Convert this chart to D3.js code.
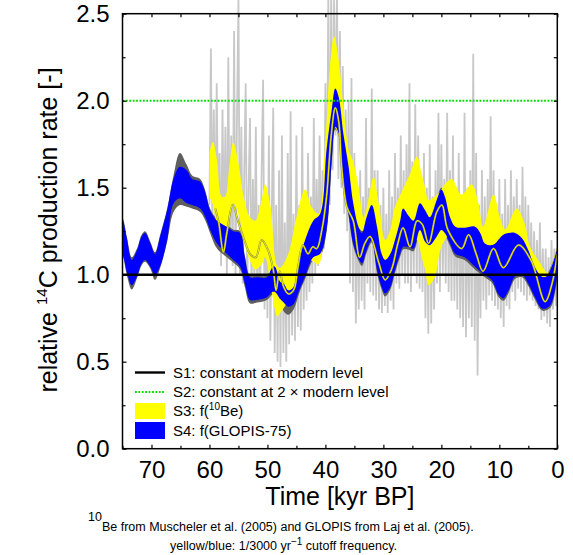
<!DOCTYPE html>
<html><head><meta charset="utf-8">
<script src="https://cdn.jsdelivr.net/npm/d3@7"></script>
<style>body{margin:0;background:#fff}svg{display:block}</style>
</head><body>
<svg id="c" width="573" height="555"></svg>
<script>
// ---------- data ----------
const xMajorTicks = [70, 60, 50, 40, 30, 20, 10, 0];
const xMinorTicks = [75, 65, 55, 45, 35, 25, 15, 5];
const yMajorTicks = [0, 0.5, 1, 1.5, 2, 2.5];
const yMinorTicks = [0.25, 0.75, 1.25, 1.75, 2.25];

// S4: f(GLOPIS-75) band (blue)
const blueT  = [75.0,74.8,74.2,73.4,72.5,71.7,71.1,70.2,69.4,68.5,67.3,66.2,65.1,63.9,63.0,61.6,60.7,59.9,58.7,57.0,55.9,54.7,53.9,53.0,51.8,50.1,49.2,48.7,47.8,47.2,46.4,45.5,44.4,43.5,42.1,40.9,39.8,38.9,38.3,37.7,36.9,36.0,35.2,34.3,33.7,32.9,32.0,31.1,30.3,29.7,28.8,28.0,27.1,26.6,25.7,24.8,23.7,22.8,22.0,20.8,20.0,19.4,18.5,17.6,16.0,14.2,13.3,12.5,11.3,10.7,10.2,9.3,8.4,7.3,6.1,5.0,3.9,2.7,1.9,1.0,0.0];
const blueHi = [1.32,1.30,1.20,1.085,1.14,1.22,1.24,1.18,1.12,1.22,1.37,1.55,1.62,1.60,1.55,1.535,1.47,1.37,1.31,1.275,1.25,1.24,1.10,0.985,0.985,0.985,1.04,1.046,0.96,0.95,0.91,0.93,1.10,1.20,1.31,1.35,1.72,1.95,2.07,2.02,1.81,1.62,1.41,1.276,1.24,1.33,1.40,1.276,1.12,1.085,1.12,1.20,1.31,1.38,1.34,1.31,1.41,1.37,1.33,1.43,1.49,1.45,1.33,1.276,1.27,1.276,1.24,1.18,1.17,1.18,1.20,1.23,1.24,1.24,1.21,1.14,1.046,0.99,0.99,1.046,1.15];
const blueLo = [1.12,1.10,1.01,0.94,0.99,1.065,1.085,1.046,1.00,1.05,1.20,1.41,1.44,1.41,1.40,1.38,1.33,1.26,1.18,1.12,1.085,1.046,0.95,0.855,0.855,0.87,0.90,0.90,0.86,0.84,0.816,0.83,0.92,0.99,1.10,1.12,1.26,1.66,1.85,1.81,1.51,1.35,1.18,1.094,1.065,1.14,1.20,1.027,0.93,0.893,0.93,1.027,1.12,1.16,1.16,1.15,1.257,1.19,1.17,1.22,1.257,1.24,1.18,1.12,1.10,1.046,1.02,1.00,0.97,0.93,0.89,0.864,0.91,0.99,1.00,0.95,0.874,0.807,0.807,0.836,1.00];

// GLOPIS raw envelope (dark grey), same times as blueT
const darkHi = [1.33,1.31,1.21,1.10,1.15,1.23,1.25,1.19,1.13,1.23,1.38,1.57,1.70,1.63,1.57,1.55,1.48,1.38,1.32,1.285,1.26,1.25,1.11,0.995,0.995,0.995,1.05,1.056,0.97,0.96,0.92,0.94,1.11,1.21,1.32,1.36,1.73,1.96,2.08,2.03,1.82,1.63,1.42,1.286,1.25,1.34,1.50,1.29,1.13,1.095,1.13,1.21,1.32,1.39,1.35,1.32,1.42,1.38,1.34,1.44,1.50,1.46,1.34,1.286,1.28,1.286,1.25,1.19,1.18,1.19,1.21,1.24,1.25,1.25,1.22,1.15,1.056,1.00,1.00,1.056,1.16];
const darkLo = [1.11,1.09,0.99,0.915,0.98,1.055,1.075,1.036,0.97,1.04,1.19,1.36,1.40,1.39,1.38,1.36,1.31,1.24,1.15,1.10,1.07,1.03,0.93,0.835,0.84,0.855,0.885,0.885,0.84,0.79,0.77,0.80,0.905,0.975,1.085,1.105,1.245,1.645,1.835,1.795,1.495,1.335,1.165,1.08,1.05,1.125,1.185,1.01,0.915,0.875,0.915,1.01,1.105,1.145,1.145,1.135,1.24,1.175,1.155,1.205,1.24,1.225,1.165,1.105,1.085,1.03,1.005,0.985,0.955,0.915,0.875,0.85,0.895,0.975,0.985,0.935,0.86,0.795,0.795,0.82,0.985];

// S3: f(10Be) band (yellow)
const yelT  = [60.0,59.4,58.7,57.9,57.3,56.7,55.9,55.0,54.1,53.0,52.1,51.0,50.4,49.5,48.7,48.3,47.8,46.4,45.0,43.5,42.4,41.2,40.1,39.2,38.5,37.7,36.9,36.0,35.2,34.3,33.4,32.6,31.7,30.8,29.7,28.8,28.0,26.8,25.4,24.2,23.4,22.8,22.2,21.1,20.2,19.4,18.2,16.5,14.8,13.6,12.8,11.0,9.9,9.0,7.0,5.6,4.7,3.3,1.6,0.7,0.0];
const yelHi = [1.70,1.764,1.66,1.45,1.45,1.58,1.76,1.64,1.45,1.33,1.31,1.43,1.52,1.40,1.10,1.05,1.04,1.12,1.33,1.49,1.39,1.35,1.72,2.20,2.37,2.23,1.97,1.72,1.65,1.51,1.33,1.43,1.56,1.41,1.20,1.26,1.39,1.48,1.58,1.68,1.58,1.50,1.43,1.45,1.48,1.52,1.55,1.46,1.52,1.41,1.276,1.46,1.33,1.26,1.38,1.29,1.16,1.085,1.01,1.085,1.16];
const yelLo = [1.45,1.40,1.28,1.20,1.18,1.30,1.41,1.35,1.20,1.08,1.03,1.06,1.10,0.95,0.80,0.76,0.78,0.85,0.95,1.04,1.08,1.06,1.30,1.60,1.85,1.80,1.60,1.40,1.30,1.27,1.25,1.25,1.20,1.10,1.06,1.05,1.10,1.18,1.18,1.20,1.10,1.03,0.94,0.99,1.14,1.20,1.24,1.26,1.22,1.18,1.15,1.16,1.16,1.17,1.17,1.12,1.05,0.95,0.90,0.95,1.05];

// thin yellow line inside the bands
const lineT = [59.0,58.4,57.6,57.0,56.0,55.0,54.0,53.0,52.0,51.0,50.0,49.0,48.5,47.9,47.2,46.4,45.5,44.7,43.9,43.0,42.2,41.5,40.6,39.8,39.0,38.3,37.7,37.2,36.3,35.2,34.1,33.2,32.3,30.8,29.7,28.6,27.5,26.6,25.4,24.2,23.3,22.2,20.8,19.9,18.9,16.5,15.3,14.0,12.8,11.0,9.3,6.7,4.5,2.1,0.9,0.0];
const lineV = [1.38,1.30,1.13,1.24,1.40,1.30,1.20,1.12,1.10,1.20,1.15,1.03,0.91,1.02,0.93,0.89,0.91,1.05,1.17,1.12,1.16,1.15,1.26,1.45,1.80,1.96,1.88,1.62,1.39,1.31,1.10,1.18,1.22,1.07,0.97,1.03,1.18,1.27,1.16,1.31,1.29,1.18,1.36,1.40,1.26,1.15,1.23,1.12,1.02,1.15,1.04,1.17,1.08,0.845,0.95,1.12];

// 10Be raw record (light grey), every 0.25 kyr from 60 to 0 kyr BP
const rawV = [
1.40,2.30,1.30,1.95, 1.25,2.10,1.35,1.70, 1.05,1.95,1.20,1.85, 1.00,2.25,1.10,1.80,
1.05,2.40,1.00,1.90, 2.58,1.00,1.85,0.95, 1.60,2.10,0.90,1.50, 1.90,0.88,1.55,0.95,
1.85,0.85,1.40,0.90, 1.60,2.12,0.80,1.50, 0.75,1.80,0.62,1.35, 1.96,0.55,1.40,0.50,
1.60,0.47,1.80,0.55, 1.30,0.50,1.70,0.60, 1.94,0.65,1.35,0.62, 1.80,0.70,1.40,0.68,
1.85,0.80,1.30,0.85, 1.70,0.90,1.45,0.95, 1.90,1.00,1.55,1.05, 1.80,1.10,1.60,1.15,
2.10,1.30,2.62,1.40, 2.65,1.60,2.60,1.80, 2.62,1.55,2.40,1.50, 2.20,1.35,1.95,1.25,
2.00,0.95,2.13,0.90, 1.70,0.72,1.50,0.80, 1.60,0.85,1.45,0.80, 1.90,0.95,1.50,0.90,
2.07,0.88,1.60,0.85, 1.60,0.80,1.40,0.78, 1.50,0.82,1.35,0.78, 1.60,0.85,1.45,0.80,
1.70,0.95,1.50,0.92, 1.80,1.00,1.60,0.95, 1.75,0.95,2.10,0.90, 1.65,1.00,1.98,0.95,
1.80,0.92,1.55,0.90, 1.70,0.75,1.50,0.66, 1.75,0.72,1.45,0.80, 1.60,0.95,1.93,0.90,
1.75,1.00,1.55,0.95, 1.93,0.90,1.60,0.85, 1.80,0.85,1.50,0.80, 1.70,0.75,1.45,0.70,
1.93,0.64,1.50,0.75, 1.60,0.70,2.27,0.62, 1.70,0.42,1.40,0.75, 1.60,0.85,1.45,0.80,
1.55,0.88,1.91,0.85, 1.60,0.82,1.40,0.80, 1.55,0.75,1.35,0.70, 1.55,0.82,1.40,0.80,
1.60,0.90,1.45,0.85, 1.55,0.92,1.40,0.90, 1.62,0.88,1.45,0.85, 1.40,0.88,1.30,0.85,
1.25,0.82,1.20,0.80, 1.30,0.74,1.15,0.76, 1.15,0.72,1.10,0.70, 1.20,0.80,1.15,0.82,
1.15];
const rawStart = 60, rawStep = 0.25;

const S1level = 1.0, S2level = 2.0;

// ---------- drawing ----------
const L = 122.5, R = 557.3, T = 13.7, B = 448.7;
const x = d3.scaleLinear().domain([75, 0]).range([L, R]);
const y = d3.scaleLinear().domain([0, 2.5]).range([B, T]);
const svg = d3.select("#c");
const font = "'Liberation Sans', Arial, Helvetica, sans-serif";

const band = d3.area().x(d => x(d.t)).y0(d => y(d.lo)).y1(d => y(d.hi)).curve(d3.curveCatmullRom.alpha(0.5));

// light grey raw record
const raw = rawV.map((v, i) => ({ t: rawStart - rawStep * i, v }));
svg.append("path").datum(raw)
  .attr("d", d3.line().x(d => x(d.t)).y(d => y(d.v)))
  .attr("fill", "none").attr("stroke", "#c8c8c8").attr("stroke-width", 1.8)
  .attr("stroke-linejoin", "miter").attr("stroke-miterlimit", 2);

// dark grey envelope
const dark = blueT.map((t, i) => ({ t, hi: darkHi[i], lo: darkLo[i] }));
svg.append("path").datum(dark).attr("d", band).attr("fill", "#5e5e5e");

// yellow band
const yel = yelT.map((t, i) => ({ t, hi: yelHi[i], lo: yelLo[i] }));
svg.append("path").datum(yel).attr("d", band).attr("fill", "#ffff00");

// blue band
const blue = blueT.map((t, i) => ({ t, hi: blueHi[i], lo: blueLo[i] }));
svg.append("path").datum(blue).attr("d", band).attr("fill", "#0000ff");

// thin yellow line
const ln = lineT.map((t, i) => ({ t, v: lineV[i] }));
const lineGen = d3.line().x(d => x(d.t)).y(d => y(d.v)).curve(d3.curveCatmullRom.alpha(0.5));
svg.append("path").datum(ln).attr("d", lineGen)
  .attr("fill", "none").attr("stroke", "#8c8c5a").attr("stroke-width", 2.0);
svg.append("path").datum(ln).attr("d", lineGen)
  .attr("fill", "none").attr("stroke", "#f4f400").attr("stroke-width", 1.0);

// S1 and S2 lines
svg.append("line").attr("x1", L).attr("x2", R).attr("y1", y(S1level)).attr("y2", y(S1level))
  .attr("stroke", "#000").attr("stroke-width", 2.4);
svg.append("line").attr("x1", L).attr("x2", R).attr("y1", y(S2level)).attr("y2", y(S2level))
  .attr("stroke", "#00dd00").attr("stroke-width", 2).attr("stroke-dasharray", "1.8,1.6");

// frame
svg.append("rect").attr("x", L).attr("y", T).attr("width", R - L).attr("height", B - T)
  .attr("fill", "none").attr("stroke", "#000").attr("stroke-width", 1.5);

function styleAxis(g) {
  g.select(".domain").remove();
  g.selectAll(".tick line").attr("stroke", "#000").attr("stroke-width", 1.2);
  g.selectAll("text").attr("font-family", font).attr("font-size", 24).attr("fill", "#000");
}
// bottom
svg.append("g").attr("transform", `translate(0,${B})`)
  .call(d3.axisBottom(x).tickValues(xMajorTicks).tickSize(-4).tickPadding(12).tickFormat(d3.format("d")))
  .call(styleAxis);
svg.append("g").attr("transform", `translate(0,${B})`)
  .call(d3.axisBottom(x).tickValues(xMinorTicks).tickSize(-3).tickFormat(""))
  .call(styleAxis);
// top
svg.append("g").attr("transform", `translate(0,${T})`)
  .call(d3.axisTop(x).tickValues(xMajorTicks.concat(xMinorTicks)).tickSize(-3.5).tickFormat(""))
  .call(styleAxis);
// left
svg.append("g").attr("transform", `translate(${L},0)`)
  .call(d3.axisLeft(y).tickValues(yMajorTicks).tickSize(-4).tickPadding(13).tickFormat(d3.format(".1f")))
  .call(styleAxis);
svg.append("g").attr("transform", `translate(${L},0)`)
  .call(d3.axisLeft(y).tickValues(yMinorTicks).tickSize(-3).tickFormat(""))
  .call(styleAxis);
// right
svg.append("g").attr("transform", `translate(${R},0)`)
  .call(d3.axisRight(y).tickValues(yMajorTicks.concat(yMinorTicks)).tickSize(-3.5).tickFormat(""))
  .call(styleAxis);

// axis titles
svg.append("text").attr("x", (L + R) / 2).attr("y", 505).attr("text-anchor", "middle")
  .attr("font-family", font).attr("font-size", 25).text("Time [kyr BP]");
const yt = svg.append("text").attr("transform", "translate(57,230) rotate(-90)")
  .attr("text-anchor", "middle").attr("font-family", font).attr("font-size", 25);
yt.append("tspan").text("relative ");
yt.append("tspan").attr("font-size", 15).attr("dy", -10).text("14");
yt.append("tspan").attr("dy", 10).text("C production rate [-]");

// legend
const lg = svg.append("g").attr("font-family", font).attr("font-size", 15);
const lx1 = 135, lx2 = 165, ltx = 173;
const rows = [372.5, 392, 411, 430.5];
lg.append("line").attr("x1", lx1).attr("x2", lx2).attr("y1", rows[0]).attr("y2", rows[0])
  .attr("stroke", "#000").attr("stroke-width", 2.4);
lg.append("line").attr("x1", lx1).attr("x2", lx2).attr("y1", rows[1]).attr("y2", rows[1])
  .attr("stroke", "#00dd00").attr("stroke-width", 2).attr("stroke-dasharray", "1.8,1.6");
lg.append("rect").attr("x", lx1).attr("y", rows[2] - 8).attr("width", lx2 - lx1).attr("height", 16).attr("fill", "#ffff00");
lg.append("rect").attr("x", lx1).attr("y", rows[3] - 8.5).attr("width", lx2 - lx1).attr("height", 17).attr("fill", "#0000ff");
lg.append("text").attr("x", ltx).attr("y", rows[0] + 5).text("S1: constant at modern level");
lg.append("text").attr("x", ltx).attr("y", rows[1] + 5).text("S2: constant at 2 \u00d7 modern level");
const t3 = lg.append("text").attr("x", ltx).attr("y", rows[2] + 5);
t3.append("tspan").text("S3: f(");
t3.append("tspan").attr("font-size", 10).attr("y", rows[2] - 1).text("10");
t3.append("tspan").attr("y", rows[2] + 5).text("Be)");
lg.append("text").attr("x", ltx).attr("y", rows[3] + 5).text("S4: f(GLOPIS-75)");

// footnotes
const fs = 12.5;
const f1 = svg.append("text").attr("font-family", font).attr("font-size", fs);
f1.append("tspan").attr("x", 88).attr("y", 521).text("10");
f1.append("tspan").attr("y", 531).text("Be from Muscheler et al. (2005) and GLOPIS from Laj et al. (2005).");
const f2 = svg.append("text").attr("font-family", font).attr("font-size", fs);
f2.append("tspan").attr("x", 170).attr("y", 550).text("yellow/blue: 1/3000 yr");
f2.append("tspan").attr("font-size", 10).attr("y", 545).text("\u22121");
f2.append("tspan").attr("y", 550).text(" cutoff frequency.");
</script>
</body></html>
